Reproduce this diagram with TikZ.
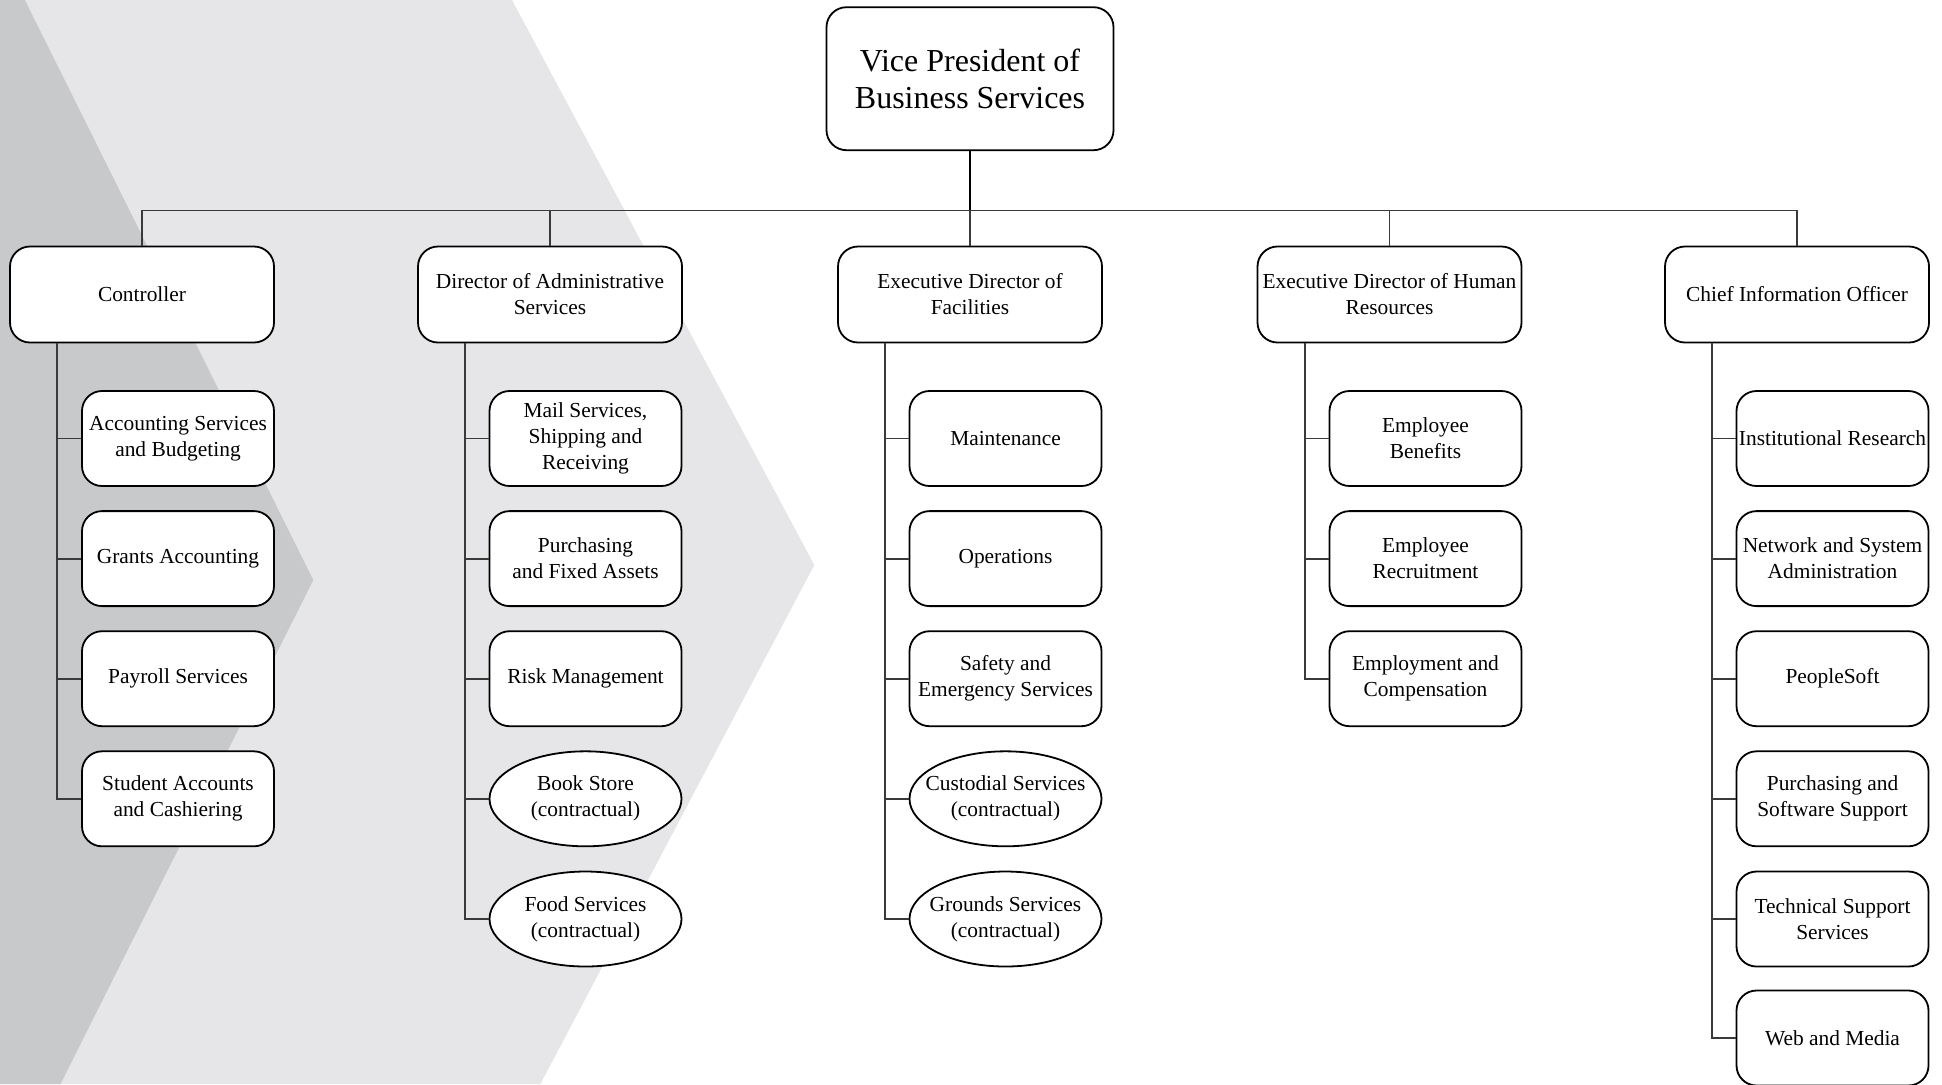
\documentclass[tikz,border=0pt]{standalone}
\usepackage{fontspec}
\setmainfont{Liberation Serif}
\usetikzlibrary{shapes.geometric,calc}
\definecolor{bgdark}{HTML}{C8C9CB}
\definecolor{bglight}{HTML}{E6E6E8}
\definecolor{conn}{HTML}{3A3A3A}
\tikzset{
  orgbox/.style={draw=black, line width=0.9pt, fill=white, rounded corners=10pt, align=center,
    inner xsep=1pt, inner ysep=1pt, font=\fontsize{10.7}{13}\selectfont},
  topbox/.style={orgbox, minimum width=143.5pt, minimum height=71.5pt, font=\fontsize{16}{18.5}\selectfont},
  headbox/.style={orgbox, minimum width=132pt, minimum height=48pt},
  unitbox/.style={orgbox, minimum width=96pt, minimum height=47.5pt},
  unitoval/.style={draw=black, line width=0.9pt, fill=white, ellipse, align=center, inner xsep=-14pt, inner ysep=0pt,
    minimum width=96pt, minimum height=47.5pt, font=\fontsize{10.7}{13}\selectfont},
  link/.style={draw=conn, line width=0.9pt},
}
\begin{document}
\begin{tikzpicture}[x=0.5pt, y=-0.5pt]
\useasboundingbox (0,0) rectangle (1942,1084);
% background chevrons
\fill[bglight] (0,0) -- (512,0) -- (814.3,565) -- (540.4,1084) -- (0,1084) -- cycle;
\fill[bgdark] (0,0) -- (24.9,0) -- (313.3,580) -- (60.5,1084) -- (0,1084) -- cycle;

% top
\node[topbox] (vp) at (970,78.7) {Vice President of\\Business Services};
\coordinate (bus) at (970,210.5);

% heads
\node[headbox] (ctrl) at (142,294.5) {Controller};
\node[headbox] (adm) at (550,294.5) {Director of Administrative\\Services};
\node[headbox] (fac) at (970,294.5) {Executive Director of\\Facilities};
\node[headbox] (hr) at (1389.5,294.5) {Executive Director of Human\\Resources};
\node[headbox] (cio) at (1797,294.5) {Chief Information Officer};

% controller units
\node[unitbox] (c1) at (178,438.5) {Accounting Services\\and Budgeting};
\node[unitbox] (c2) at (178,558.6) {Grants Accounting};
\node[unitbox] (c3) at (178,678.7) {Payroll Services};
\node[unitbox] (c4) at (178,798.8) {Student Accounts\\and Cashiering};

% administrative units
\node[unitbox] (a1) at (585.5,438.5) {Mail Services,\\Shipping and\\Receiving};
\node[unitbox] (a2) at (585.5,558.6) {Purchasing\\and Fixed Assets};
\node[unitbox] (a3) at (585.5,678.7) {Risk Management};
\node[unitoval] (a4) at (585.5,798.8) {Book Store\\(contractual)};
\node[unitoval] (a5) at (585.5,919) {Food Services\\(contractual)};

% facilities units
\node[unitbox] (f1) at (1005.5,438.5) {Maintenance};
\node[unitbox] (f2) at (1005.5,558.6) {Operations};
\node[unitbox] (f3) at (1005.5,678.7) {Safety and\\Emergency Services};
\node[unitoval] (f4) at (1005.5,798.8) {Custodial Services\\(contractual)};
\node[unitoval] (f5) at (1005.5,919) {Grounds Services\\(contractual)};

% HR units
\node[unitbox] (h1) at (1425.5,438.5) {Employee\\Benefits};
\node[unitbox] (h2) at (1425.5,558.6) {Employee\\Recruitment};
\node[unitbox] (h3) at (1425.5,678.7) {Employment and\\Compensation};

% CIO units
\node[unitbox] (i1) at (1832.5,438.5) {Institutional Research};
\node[unitbox] (i2) at (1832.5,558.6) {Network and System\\Administration};
\node[unitbox] (i3) at (1832.5,678.7) {PeopleSoft};
\node[unitbox] (i4) at (1832.5,798.8) {Purchasing and\\Software Support};
\node[unitbox] (i5) at (1832.5,919) {Technical Support\\Services};
\node[unitbox] (i6) at (1832.5,1038) {Web and Media};

% top connectors
\draw[link, draw=black] (vp.south) -- (bus);
\draw[link] (ctrl.north) -- (ctrl.north |- bus) -- (cio.north |- bus) -- (cio.north);
\foreach \h in {adm,fac,hr} \draw[link] (\h.north |- bus) -- (\h.north);

% trunks
\foreach \h/\last/\others in {ctrl/c4/{c1,c2,c3}, adm/a5/{a1,a2,a3,a4}, fac/f5/{f1,f2,f3,f4}, hr/h3/{h1,h2}, cio/i6/{i1,i2,i3,i4,i5}}{
  \coordinate (t-\h) at ($(\h.south west)+(24pt,0)$);
  \draw[link] (t-\h) |- (\last.west);
  \foreach \u in \others \draw[link] (\u.west) -- (\u.west -| t-\h);
}
\end{tikzpicture}
\end{document}
